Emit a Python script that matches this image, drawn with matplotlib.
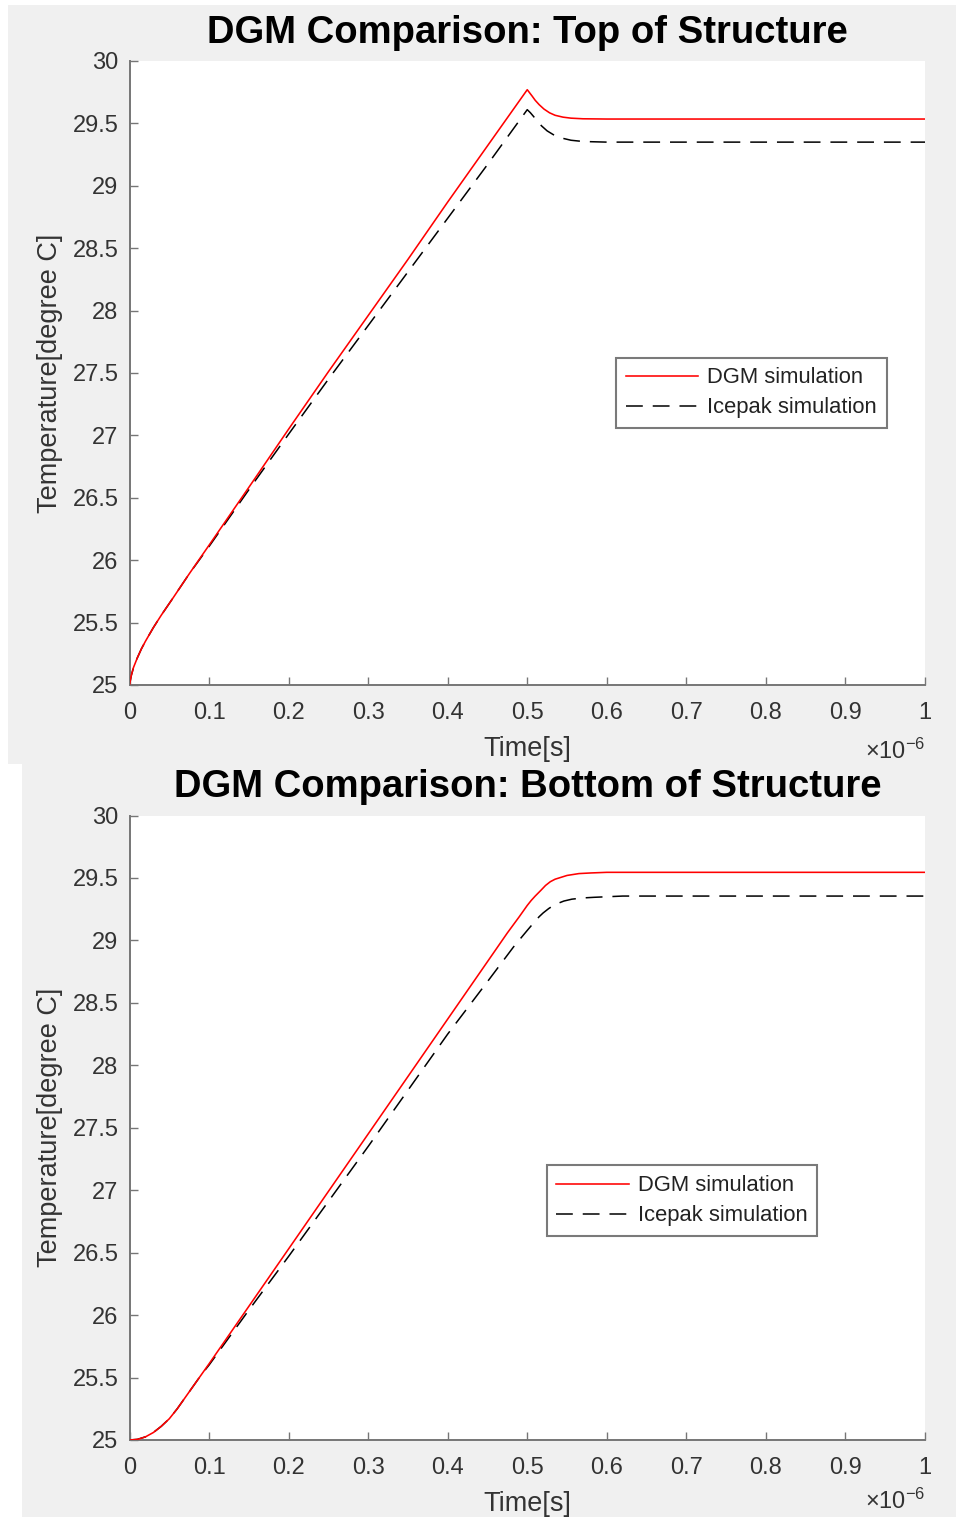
import matplotlib
matplotlib.use('Agg')
import matplotlib.pyplot as plt
from matplotlib.patches import Rectangle

plt.rcParams['font.family'] = ['Liberation Sans', 'DejaVu Sans']
plt.rcParams['mathtext.fontset'] = 'custom'
plt.rcParams['mathtext.rm'] = 'Liberation Sans'
plt.rcParams['mathtext.it'] = 'Liberation Sans:italic'
plt.rcParams['mathtext.bf'] = 'Liberation Sans:bold'

# ---------------- data (time in units of 1e-6 s, temperature in degree C) ----------------
top_dgm_t = [0, 0.002, 0.005, 0.01, 0.015, 0.02, 0.03, 0.04, 0.055, 0.075, 0.1, 0.155, 0.2,
             0.25, 0.3, 0.35, 0.4, 0.45, 0.5, 0.503, 0.506, 0.51, 0.515, 0.521, 0.528, 0.535,
             0.545, 0.555, 0.57, 0.6, 0.7, 0.8, 0.9, 1.0]
top_dgm_T = [25.0, 25.07, 25.14, 25.22, 25.29, 25.35, 25.46, 25.56, 25.70, 25.89, 26.12, 26.63,
             27.05, 27.51, 27.96, 28.41, 28.87, 29.32, 29.77, 29.745, 29.72, 29.685, 29.65,
             29.615, 29.585, 29.565, 29.55, 29.542, 29.537, 29.535, 29.535, 29.535, 29.535,
             29.535]

top_ice_t = [0, 0.002, 0.005, 0.01, 0.015, 0.02, 0.03, 0.04, 0.055, 0.075, 0.1, 0.155, 0.2,
             0.25, 0.3, 0.35, 0.4, 0.45, 0.5, 0.504, 0.508, 0.513, 0.518, 0.525, 0.534, 0.545,
             0.555, 0.57, 0.6, 0.7, 0.8, 0.9, 1.0]
top_ice_T = [25.0, 25.07, 25.14, 25.22, 25.29, 25.35, 25.46, 25.56, 25.70, 25.89, 26.11, 26.61,
             27.01, 27.45, 27.88, 28.31, 28.74, 29.17, 29.61, 29.585, 29.555, 29.515, 29.48,
             29.44, 29.405, 29.38, 29.365, 29.355, 29.35, 29.35, 29.35, 29.35, 29.35]

bot_dgm_t = [0, 0.01, 0.02, 0.03, 0.04, 0.05, 0.06, 0.07, 0.08, 0.09, 0.1, 0.15, 0.2, 0.25,
             0.3, 0.35, 0.4, 0.45, 0.475, 0.49, 0.5, 0.505, 0.51, 0.517, 0.523, 0.529, 0.535,
             0.54, 0.55, 0.565, 0.58, 0.6, 0.7, 0.8, 0.9, 1.0]
bot_dgm_T = [25.0, 25.005, 25.025, 25.06, 25.11, 25.17, 25.25, 25.34, 25.43, 25.52, 25.61,
             26.07, 26.53, 26.99, 27.45, 27.91, 28.37, 28.83, 29.06, 29.19, 29.28, 29.32,
             29.355, 29.40, 29.44, 29.47, 29.49, 29.50, 29.52, 29.535, 29.54, 29.545, 29.545,
             29.545, 29.545, 29.545]

bot_ice_t = [0, 0.01, 0.02, 0.03, 0.04, 0.05, 0.06, 0.07, 0.08, 0.09, 0.1, 0.15, 0.2, 0.25,
             0.3, 0.35, 0.4, 0.45, 0.483, 0.5, 0.508, 0.515, 0.52, 0.527, 0.533, 0.54, 0.546,
             0.556, 0.57, 0.584, 0.62, 0.7, 0.8, 0.9, 1.0]
bot_ice_T = [25.0, 25.005, 25.025, 25.06, 25.11, 25.17, 25.25, 25.34, 25.43, 25.52, 25.60,
             26.04, 26.47, 26.91, 27.35, 27.80, 28.25, 28.67, 28.95, 29.08, 29.14, 29.19,
             29.22, 29.255, 29.28, 29.30, 29.315, 29.33, 29.34, 29.345, 29.355, 29.355,
             29.355, 29.355, 29.355]

x_ticks = [0, 0.1, 0.2, 0.3, 0.4, 0.5, 0.6, 0.7, 0.8, 0.9, 1.0]
x_tick_labels = ['0', '0.1', '0.2', '0.3', '0.4', '0.5', '0.6', '0.7', '0.8', '0.9', '1']
y_ticks = [25, 25.5, 26, 26.5, 27, 27.5, 28, 28.5, 29, 29.5, 30]
y_tick_labels = ['25', '25.5', '26', '26.5', '27', '27.5', '28', '28.5', '29', '29.5', '30']

titles = ['DGM Comparison: Top of Structure', 'DGM Comparison: Bottom of Structure']
series_labels = ['DGM simulation', 'Icepak simulation']
x_label = 'Time[s]'
y_label = 'Temperature[degree C]'
x_multiplier = r'$\mathregular{\times10^{-6}}$'

# ---------------- layout ----------------
W, H = 956, 1517
fig = plt.figure(figsize=(W / 100, H / 100), dpi=100, facecolor='white')


def px_box(x0, y0, x1, y1):
    return [x0 / W, 1 - y1 / H, (x1 - x0) / W, (y1 - y0) / H]


for (x0, y0, x1, y1) in [(8, 5, 956, 764), (22, 764, 956, 1517)]:
    l, b, w, h = px_box(x0, y0, x1, y1)
    fig.add_artist(Rectangle((l, b), w, h, transform=fig.transFigure,
                             facecolor='#f0f0f0', edgecolor='none', zorder=-5))

axes_boxes = [(129.5, 61, 925, 685), (129.5, 815.5, 925, 1440)]
legend_centers = [(0.7819, 0.468), (0.6945, 0.383)]
multiplier_y = [-0.118, -0.111]
data = [((top_dgm_t, top_dgm_T), (top_ice_t, top_ice_T)),
        ((bot_dgm_t, bot_dgm_T), (bot_ice_t, bot_ice_T))]

axis_col = '#767676'
text_col = '#333333'

for i in range(2):
    ax = fig.add_axes(px_box(*axes_boxes[i]))
    ax.set_facecolor('white')
    (dt, dT), (it, iT) = data[i]
    l1, = ax.plot(dt, dT, color='#ff0000', lw=1.15, zorder=3)
    l2, = ax.plot(it, iT, color='black', lw=1.1, linestyle=(0, (11, 6.5)), zorder=2)
    ax.set_xlim(0, 1)
    ax.set_ylim(25, 30)
    ax.set_xticks(x_ticks)
    ax.set_xticklabels(x_tick_labels)
    ax.set_yticks(y_ticks)
    ax.set_yticklabels(y_tick_labels)
    for s in ['top', 'right']:
        ax.spines[s].set_visible(False)
    for s in ['left', 'bottom']:
        ax.spines[s].set_color(axis_col)
        ax.spines[s].set_linewidth(1.4)
    ax.tick_params(direction='in', length=5.8, width=1.0, color=axis_col,
                   labelcolor=text_col, labelsize=17)
    ax.tick_params(axis='y', pad=8)
    ax.tick_params(axis='x', pad=12.5)
    ax.set_title(titles[i], fontsize=27.5, fontweight='bold', pad=13, color='black')
    ax.set_xlabel(x_label, fontsize=19.5, color=text_col)
    ax.xaxis.set_label_coords(0.5, -0.082)
    ax.set_ylabel(y_label, fontsize=19.5, color=text_col)
    ax.yaxis.set_label_coords(-0.084, 0.5)
    ax.text(1.0, multiplier_y[i], x_multiplier, transform=ax.transAxes, ha='right',
            va='baseline', fontsize=17, color=text_col)
    leg = ax.legend([l1, l2], series_labels, loc='center', bbox_to_anchor=legend_centers[i],
                    fontsize=15.8, frameon=True, fancybox=False, framealpha=1,
                    edgecolor='#7a7a7a', borderpad=0.45, handlelength=3.3,
                    handletextpad=0.41, labelspacing=0.41, borderaxespad=0)
    leg.get_frame().set_linewidth(1.5)
    for t in leg.get_texts():
        t.set_color('#222222')

fig.savefig('out.png', dpi=100, facecolor='white')
